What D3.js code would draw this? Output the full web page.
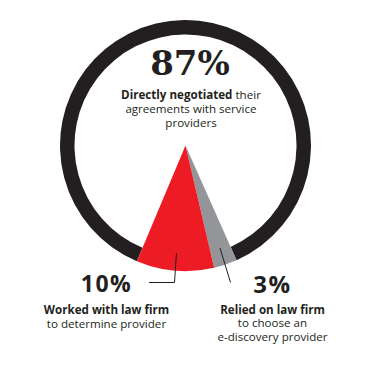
<!DOCTYPE html>
<html>
<head>
    <meta charset="utf-8">
    <script src="https://d3js.org/d3.v7.min.js"></script>
    <style>
        body { margin: 0; background: #fff; }
        text { font-family: "Open Sans", sans-serif; fill: #231f20; }
    </style>
</head>
<body>
    <svg width="374" height="365"></svg>

    <script>
        // survey shares, clockwise from the gray wedge
        const categories = ["Relied on law firm", "Worked with law firm", "Directly negotiated"];
        const values = [3, 10, 87];
        const valueLabels = ["3%", "10%", "87%"];
        const colors = ["#939598", "#ed1c24", "none"];

        const svg = d3.select("svg");
        const cx = 185.5, cy = 145.5;
        const outerR = 125.5, ringW = 14.5;

        const g = svg.append("g").attr("transform", `translate(${cx},${cy})`);

        const pie = d3.pie()
            .sort(null)
            .value(d => d)
            .startAngle(156 * Math.PI / 180)
            .endAngle(156 * Math.PI / 180 + 2 * Math.PI);
        const slices = pie(values);

        const wedge = d3.arc().innerRadius(0).outerRadius(outerR);
        const ring = d3.arc().innerRadius(outerR - ringW).outerRadius(outerR);

        // black ring only along the big slice
        g.append("path")
            .attr("d", ring(slices[2]))
            .attr("fill", "#231f20");

        g.selectAll("path.wedge")
            .data(slices.slice(0, 2))
            .join("path")
            .attr("class", "wedge")
            .attr("d", wedge)
            .attr("fill", (d, i) => colors[i]);

        // leader lines
        const inner = d3.arc().innerRadius(108).outerRadius(108);
        const p3 = inner.centroid(slices[0]);
        const p10 = inner.centroid(slices[1]);
        g.append("path")
            .attr("d", d3.line()([[p3[0], p3[1]], [230.5 - cx, 282.5 - cy]]))
            .attr("fill", "none").attr("stroke", "#231f20").attr("stroke-width", 1);
        g.append("path")
            .attr("d", d3.line()([[p10[0], p10[1]], [174.5 - cx, 282.5 - cy], [149 - cx, 282.5 - cy]]))
            .attr("fill", "none").attr("stroke", "#231f20").attr("stroke-width", 1);

        function line(x, y, txt, bold) {
            return svg.append("text")
                .attr("x", x).attr("y", y)
                .attr("text-anchor", "middle")
                .style("font-size", "11.6px")
                .style("font-weight", bold ? 700 : 400)
                .text(txt);
        }

        // 87% block
        svg.append("text")
            .attr("x", 190).attr("y", 75)
            .attr("text-anchor", "middle")
            .style("font-family", "'DejaVu Serif', serif")
            .style("font-weight", 700)
            .style("font-size", "34px")
            .text(valueLabels[2]);

        const l1 = line(191, 99, "", false);
        l1.append("tspan").style("font-weight", 700).text(categories[2]);
        l1.append("tspan").text(" their");
        line(191, 113, "agreements with service");
        line(191, 127, "providers");

        // 10% block
        svg.append("text")
            .attr("x", 106.5).attr("y", 292)
            .attr("text-anchor", "middle")
            .style("font-size", "23px").style("font-weight", 700)
            .style("letter-spacing", "1.5px")
            .text(valueLabels[1]);
        line(106.5, 314, categories[1], true);
        line(106.5, 327.5, "to determine provider");

        // 3% block
        svg.append("text")
            .attr("x", 272.5).attr("y", 293)
            .attr("text-anchor", "middle")
            .style("font-size", "24px").style("font-weight", 700)
            .style("letter-spacing", "1.5px")
            .text(valueLabels[0]);
        line(272.5, 313.5, categories[0], true);
        line(272.5, 327, "to choose an");
        line(272.5, 341, "e-discovery provider");
    </script>
</body>
</html>
